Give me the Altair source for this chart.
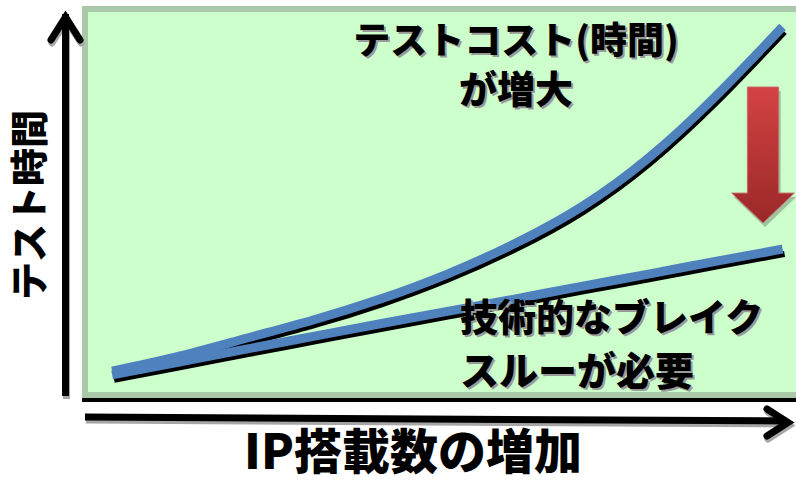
import altair as alt
import pandas as pd

# ---- data (arbitrary units) ----
ip_count = [0, 1, 2, 3, 4, 5, 6, 7, 8, 9, 10]
time_current = [7.2, 11.2, 16.0, 20.9, 26.5, 33.2, 41.3, 51.2, 64.3, 80.8, 99.4]
time_breakthrough = [6.2, 9.6, 13.1, 16.5, 19.9, 23.2, 26.5, 29.9, 33.2, 36.6, 39.9]
series_names = ["現状", "ブレイクスルー後"]

y_title = "テスト時間"
x_title = "IP搭載数の増加"
note_up = ["テストコスト(時間)", "が増大"]
note_down = ["技術的なブレイク", "スルーが必要"]

rows = []
for name, vals in zip(series_names, [time_current, time_breakthrough]):
    for x, y in zip(ip_count, vals):
        rows.append({"ip": x, "time": y, "series": name})
df = pd.DataFrame(rows)

FONT = "Noto Sans CJK JP"
W, H = 714, 392
one = alt.Data(values=[{"k": 1}])

xs = alt.Scale(domain=[-0.45, 10.2], nice=False, zero=False)
ys = alt.Scale(domain=[0, 105], nice=False, zero=False)

base = alt.Chart(df).encode(
    x=alt.X("ip:Q", scale=xs, axis=None),
    y=alt.Y("time:Q", scale=ys, axis=None),
    detail="series:N",
)
black_lines = base.mark_line(interpolate="natural", strokeWidth=6, color="black",
                             xOffset=2, yOffset=5, strokeCap="butt")
blue_lines = base.mark_line(interpolate="natural", strokeWidth=9, color="#4F81BD",
                            strokeCap="butt")

# plot background
bg = alt.Chart(one).mark_rect(fill="#CCFFCC", stroke="#AAC8AA", strokeWidth=6).encode(
    x=alt.value(3), x2=alt.value(730), y=alt.value(3), y2=alt.value(389))
bottom_line = alt.Chart(one).mark_rule(color="black", strokeWidth=4).encode(
    x=alt.value(0), x2=alt.value(W), y=alt.value(394))


def rule(x1, x2, y1, y2, color, dx=0, dy=0):
    return alt.Chart(one).mark_rule(color=color, strokeWidth=7, strokeCap="butt").encode(
        x=alt.value(x1 + dx), x2=alt.value(x2 + dx), y=alt.value(y1 + dy), y2=alt.value(y2 + dy))


def chevron(path, size, x, y, color, dx=0, dy=0):
    return alt.Chart(one).mark_point(shape=path, size=size, filled=False, color=color,
                                     strokeWidth=7, strokeCap="round", strokeJoin="miter",
                                     opacity=1).encode(x=alt.value(x + dx), y=alt.value(y + dy))


SH = "#A6A6A6"
up_path = "M-1,0.79L0,-0.79L1,0.79"
right_path = "M-0.78,-1L0.78,0L-0.78,1"
axes = [
    rule(-16.5, -16.5, 8, 390, SH, 1, 3),
    chevron(up_path, 841, -16.5, 22.5, SH, 1, 3),
    rule(3, 705, 411, 415, SH, 1, 3),
    chevron(right_path, 729, 695.5, 416.5, SH, 1, 3),
    rule(-16.5, -16.5, 8, 390, "black"),
    chevron(up_path, 841, -16.5, 22.5, "black"),
    rule(3, 705, 411, 415, "black"),
    chevron(right_path, 729, 695.5, 416.5, "black"),
]

# red arrow
arrow_path = "M-0.23,-1L0.23,-1L0.23,0.56L0.46,0.56L0,1L-0.46,0.56L-0.23,0.56Z"
grad = alt.Gradient(gradient="linear",
                    stops=[alt.GradientStop(color="#D44343", offset=0),
                           alt.GradientStop(color="#9A2828", offset=1)],
                    x1=0, x2=0, y1=0, y2=1)
arrow_shadow = alt.Chart(one).mark_point(shape=arrow_path, size=18496, filled=True,
                                         fill="#708870", opacity=0.5, strokeWidth=0).encode(
    x=alt.value(683), y=alt.value(153))
arrow = alt.Chart(one).mark_point(shape=arrow_path, size=18496, filled=True, fill=grad,
                                  stroke="#C86A6A", strokeWidth=1, opacity=1).encode(
    x=alt.value(681), y=alt.value(149))


def label(text, x, y, size, align="center", angle=0, shadow=False):
    layers = []
    if shadow:
        layers.append(alt.Chart(one).mark_text(
            text=text, font=FONT, fontSize=size, fontWeight=900, color="#9A9A9A",
            align=align, baseline="middle", angle=angle).encode(
            x=alt.value(x + 2), y=alt.value(y + 2)))
    layers.append(alt.Chart(one).mark_text(
        text=text, font=FONT, fontSize=size, fontWeight=900, color="black",
        align=align, baseline="middle", angle=angle).encode(
        x=alt.value(x), y=alt.value(y)))
    return layers


texts = []
texts += label(y_title, -50, 199, 38, angle=270)
texts += label(x_title, 331, 449, 48)
texts += label(note_up[0], 434, 37, 37, shadow=True)
texts += label(note_up[1], 434, 86, 38, shadow=True)
texts += label(note_down[0], 378, 314, 38, align="left", shadow=True)
texts += label(note_down[1], 378, 367, 39, align="left", shadow=True)

chart = alt.layer(
    bg, bottom_line, *axes, arrow_shadow, arrow, black_lines, blue_lines, *texts
).properties(
    width=W, height=H,
    padding={"left": 82, "top": 6, "right": 0, "bottom": 85},
    autosize="none",
    background="white",
).configure_view(stroke=None)

chart.save("out.html", embed_options={"renderer": "svg", "actions": False})
